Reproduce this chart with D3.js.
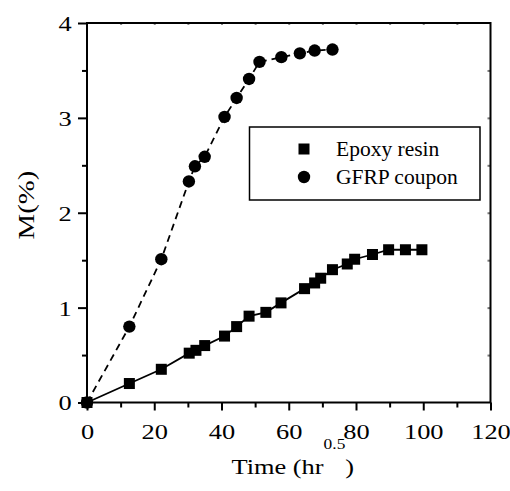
<!DOCTYPE html>
<html><head><meta charset="utf-8">
<script src="https://cdn.jsdelivr.net/npm/d3@7"></script>
<style>body{margin:0;background:#fff}svg{display:block}</style>
</head><body>
<svg id="c" width="510" height="491" font-family="Liberation Serif"></svg>
<script>
const epoxyX = [0, 12.6, 22.1, 30.4, 32.4, 35.0, 40.9, 44.5, 48.2, 53.2, 57.7, 64.7, 67.7, 69.5, 73.0, 77.4, 79.6, 84.9, 89.7, 94.7, 99.6];
const epoxyY = [0, 0.20, 0.35, 0.52, 0.55, 0.60, 0.70, 0.80, 0.91, 0.95, 1.05, 1.20, 1.26, 1.31, 1.40, 1.46, 1.51, 1.56, 1.61, 1.61, 1.61];
const gfrpX = [0, 12.6, 22.1, 30.3, 32.1, 35.0, 40.9, 44.5, 48.2, 51.3, 57.8, 63.3, 67.7, 73.0];
const gfrpY = [0, 0.80, 1.51, 2.33, 2.49, 2.59, 3.01, 3.21, 3.41, 3.59, 3.64, 3.68, 3.71, 3.72];
const xTicks = [0, 20, 40, 60, 80, 100, 120];
const yTicks = [0, 1, 2, 3, 4];
const seriesNames = ["Epoxy resin", "GFRP coupon"];

const FF = "Liberation Serif";
const svg = d3.select("#c");
const L = 87, R = 490.5, T = 23, B = 402.5;
const x = d3.scaleLinear().domain([0, 120]).range([L, R]);
const y = d3.scaleLinear().domain([0, 4]).range([B, T]);
const fmt = d3.format("d");

const xMinor = d3.range(10, 120, 20);
const yMinor = [0.5, 1.5, 2.5, 3.5];

const gx = svg.append("g").attr("transform", `translate(0,${B})`)
  .call(d3.axisBottom(x).tickValues(xTicks).tickFormat(fmt).tickSize(8).tickSizeOuter(0));
svg.append("g").attr("transform", `translate(0,${B})`)
  .call(d3.axisBottom(x).tickValues(xMinor).tickSize(5).tickFormat("").tickSizeOuter(0));
const gy = svg.append("g").attr("transform", `translate(${L},0)`)
  .call(d3.axisLeft(y).tickValues(yTicks).tickFormat(fmt).tickSize(9).tickSizeOuter(0));
svg.append("g").attr("transform", `translate(${L},0)`)
  .call(d3.axisLeft(y).tickValues(yMinor).tickSize(5).tickFormat("").tickSizeOuter(0));
svg.append("g").attr("transform", `translate(0,${T})`)
  .call(d3.axisBottom(x).tickValues(d3.range(10, 120, 10)).tickSize(2).tickFormat("").tickSizeOuter(0))
  .selectAll("line").attr("stroke", "#888");
svg.append("g").attr("transform", `translate(${R},0)`)
  .call(d3.axisLeft(y).tickValues(d3.range(0.5, 4, 0.5)).tickSize(3).tickFormat("").tickSizeOuter(0))
  .selectAll("line").attr("stroke", "#777");
svg.selectAll("g").attr("font-family", FF);
svg.selectAll(".domain").remove();
svg.selectAll(".tick line").attr("stroke-width", 2);
svg.selectAll(".tick text").attr("font-family", FF).attr("font-size", 22).attr("fill", "#000")
  .attr("transform", "scale(1.2,1)");
gx.selectAll(".tick text").attr("y", 20.5).attr("dy", "0.71em");
gy.selectAll(".tick text").attr("x", -12.8).attr("dy", "0.34em");
svg.append("rect").attr("x", L).attr("y", T).attr("width", R - L).attr("height", B - T)
  .attr("fill", "none").attr("stroke", "#000").attr("stroke-width", 2);

const epoxy = epoxyX.map((v, i) => [v, epoxyY[i]]);
const gfrp = gfrpX.map((v, i) => [v, gfrpY[i]]);
const line = d3.line().x(d => x(d[0])).y(d => y(d[1]));

svg.append("path").datum(epoxy).attr("d", line).attr("fill", "none").attr("stroke", "#000").attr("stroke-width", 1.8);
svg.append("path").datum(gfrp).attr("d", line).attr("fill", "none").attr("stroke", "#000").attr("stroke-width", 1.8).attr("stroke-dasharray", "7,5");

const S = 11;
svg.append("g").selectAll("rect").data(epoxy).join("rect")
  .attr("x", d => x(d[0]) - S / 2).attr("y", d => y(d[1]) - S / 2).attr("width", S).attr("height", S).attr("fill", "#000");
svg.append("g").selectAll("circle").data(gfrp).join("circle")
  .attr("cx", d => x(d[0])).attr("cy", d => y(d[1])).attr("r", 6.2).attr("fill", "#000");

// legend
svg.append("rect").attr("x", 249.5).attr("y", 127).attr("width", 230.5).attr("height", 73)
  .attr("fill", "#fff").attr("stroke", "#000").attr("stroke-width", 1.5);
svg.append("rect").attr("x", 304 - 5.5).attr("y", 149 - 5.5).attr("width", 11).attr("height", 11).attr("fill", "#000");
svg.append("circle").attr("cx", 304).attr("cy", 177).attr("r", 6.2).attr("fill", "#000");
svg.append("text").attr("x", 336).attr("y", 156).attr("font-family", FF).attr("font-size", 21.5).text(seriesNames[0]);
svg.append("text").attr("x", 336).attr("y", 184).attr("font-family", FF).attr("font-size", 21.5).text(seriesNames[1]);

// axis titles
const xt = svg.append("text").attr("transform", "translate(231.5,474) scale(1.2,1)")
  .attr("font-family", FF).attr("font-size", 22);
xt.append("tspan").text("Time (hr");
xt.append("tspan").attr("dy", -25).attr("font-size", 14.5).text("0.5");
xt.append("tspan").attr("dy", 25).text(")");
svg.append("text").attr("transform", "translate(34,205) rotate(-90) scale(1.2,1)").attr("text-anchor", "middle")
  .attr("font-family", FF).attr("font-size", 24).text("M(%)");
</script>
</body></html>
